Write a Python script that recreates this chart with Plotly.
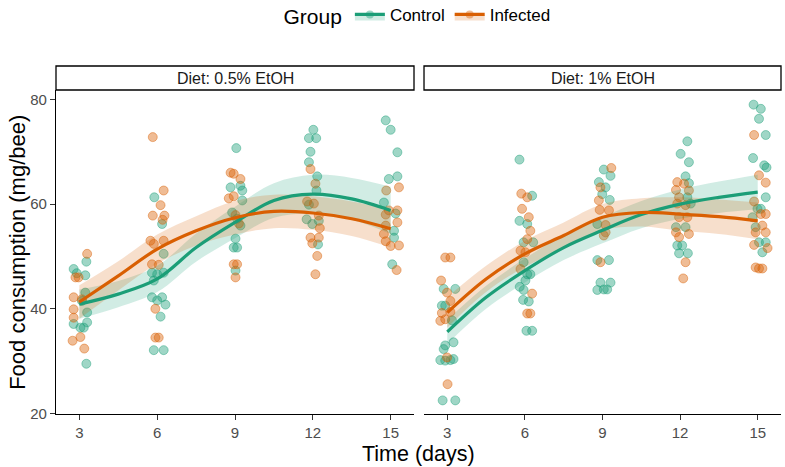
import plotly.graph_objects as go

# ---------------- data ----------------
panels = ["Diet: 0.5% EtOH", "Diet: 1% EtOH"]
groups = ["Control", "Infected"]
colors = {"Control": "#1B9E77", "Infected": "#D95F02"}
fills = {"Control": "rgba(27,158,119,0.2)", "Infected": "rgba(217,95,2,0.2)"}
pt_fill = {"Control": "rgba(27,158,119,0.42)", "Infected": "rgba(217,95,2,0.42)"}
pt_edge = {"Control": "rgba(27,158,119,0.55)", "Infected": "rgba(217,95,2,0.55)"}

# jittered time (days) and food consumption (mg/bee)
l_ctrl_t = [2.78, 3.27, 3.23, 2.90, 3.23, 3.10, 3.30, 2.78, 3.04, 3.17, 3.30, 3.27,
            5.89, 6.19, 6.25, 5.80, 6.00, 6.25, 5.87, 5.80, 6.00, 6.19, 6.32, 6.13, 5.87, 6.25,
            9.05, 8.83, 9.21, 9.28, 9.28, 8.89, 9.08, 9.21, 9.02, 8.95, 9.08, 9.02,
            12.02, 11.85, 12.13, 11.91, 11.85, 12.17, 12.14, 11.85, 11.76, 11.98, 12.23, 12.20,
            14.81, 15.00, 15.26, 14.93, 15.26, 14.74, 15.19, 15.13, 15.13, 15.06]
l_ctrl_y = [47.6, 49.0, 46.4, 46.8, 43.1, 41.5, 39.3, 37.1, 36.4, 36.4, 37.4, 29.5,
            61.3, 56.2, 50.5, 46.9, 46.6, 46.9, 45.4, 42.2, 41.6, 42.2, 40.8, 38.5, 32.1, 32.1,
            70.7, 63.2, 63.5, 62.6, 60.7, 58.4, 57.2, 55.9, 53.4, 51.7, 51.7, 47.3,
            74.2, 72.6, 72.6, 70.0, 68.0, 65.3, 62.6, 59.9, 57.1, 56.2, 56.8, 52.3,
            76.0, 74.2, 69.9, 64.8, 65.3, 60.3, 58.2, 54.9, 53.6, 48.5]

l_inf_t = [3.30, 2.85, 2.97, 2.78, 3.10, 2.78, 2.78, 2.74, 3.04, 3.19,
           5.83, 6.25, 6.13, 5.83, 6.28, 6.21, 5.74, 5.87, 6.25, 5.80, 6.06, 5.93, 5.93, 6.06,
           8.83, 8.95, 9.21, 8.76, 8.95, 9.02, 9.15, 8.95, 9.08, 9.02,
           11.91, 12.10, 11.78, 12.04, 12.23, 12.27, 11.91, 12.23, 11.98, 12.17, 12.10,
           15.32, 14.83, 14.93, 15.26, 14.81, 15.26, 14.81, 14.74, 14.81, 15.00, 15.32, 15.23]
l_inf_y = [50.5, 46.0, 46.0, 42.2, 41.8, 39.9, 38.3, 33.9, 34.6, 32.4,
           72.8, 62.6, 59.8, 57.8, 57.8, 57.0, 53.0, 52.4, 53.0, 48.5, 48.4, 40.0, 34.5, 34.5,
           66.0, 65.8, 64.8, 61.1, 61.5, 57.9, 56.3, 48.5, 48.5, 46.0,
           66.7, 63.9, 60.5, 60.1, 57.8, 55.4, 53.6, 53.6, 52.5, 50.1, 46.6,
           63.2, 62.6, 58.8, 58.8, 58.0, 56.5, 55.9, 54.3, 52.9, 52.0, 52.1, 47.4]

r_ctrl_t = [2.86, 3.31, 2.79, 2.92, 3.18, 3.24, 2.92, 2.86, 2.73, 2.92, 3.12, 3.24, 2.82, 3.31,
            5.79, 6.28, 5.79, 6.09, 5.95, 6.32, 5.95, 6.09, 6.21, 6.02, 5.80, 5.95, 5.93, 6.15, 6.06, 6.28,
            9.05, 9.31, 8.86, 9.12, 8.99, 9.28, 8.80, 8.80, 9.25, 8.92, 9.31, 8.80, 9.05, 9.18,
            12.28, 12.02, 12.34, 12.21, 12.34, 12.28, 12.41, 11.84, 12.21, 11.89, 12.08, 11.96, 12.30,
            14.84, 15.12, 15.05, 15.31, 14.82, 15.25, 15.34, 15.31, 14.99, 15.12, 14.80, 14.92, 15.05, 15.31, 15.18]
r_ctrl_y = [43.8, 43.8, 40.6, 40.6, 37.8, 33.6, 33.0, 32.3, 30.2, 30.1, 30.2, 30.4, 22.5, 22.5,
            68.5, 61.6, 56.8, 56.2, 52.7, 52.7, 48.9, 46.6, 46.6, 45.4, 44.2, 43.6, 41.7, 41.4, 35.8, 35.8,
            66.6, 65.4, 64.2, 63.2, 61.9, 60.8, 56.2, 49.3, 49.3, 45.0, 45.0, 43.6, 43.7, 43.7,
            72.0, 69.6, 68.0, 65.3, 64.0, 61.3, 60.1, 55.6, 55.6, 52.1, 52.1, 50.6, 50.6,
            79.0, 78.2, 76.3, 73.2, 68.8, 67.4, 67.0, 61.3, 59.1, 59.1, 57.5, 55.6, 52.7, 52.7, 50.8]

r_inf_t = [2.92, 3.12, 2.76, 2.99, 3.12, 2.79, 3.12, 2.73, 2.92, 2.99, 3.01,
           5.86, 6.09, 5.89, 6.15, 6.21, 6.09, 5.83, 6.02, 5.83, 6.28, 6.09, 6.21,
           9.34, 8.92, 8.86, 8.89, 9.25, 9.12, 9.05, 9.12, 8.92,
           11.89, 12.15, 11.84, 12.34, 11.96, 11.89, 12.21, 11.96, 12.28, 11.84, 12.34, 11.96, 12.21, 12.12,
           14.86, 15.05, 15.31, 14.86, 15.12, 15.31, 15.18, 14.92, 15.31, 14.86, 15.38, 14.92, 15.05, 15.18]
r_inf_y = [49.8, 49.8, 45.4, 43.1, 41.5, 39.2, 39.4, 37.7, 38.0, 30.7, 25.6,
           62.0, 61.3, 59.1, 57.5, 54.9, 53.3, 51.1, 50.8, 47.6, 42.9, 39.1, 39.1,
           66.9, 63.2, 60.7, 58.9, 58.8, 56.0, 54.0, 54.6, 48.9,
           64.2, 63.9, 62.7, 62.6, 61.3, 60.1, 59.8, 57.5, 57.5, 54.6, 54.3, 53.7, 48.9, 45.8,
           73.2, 65.5, 64.1, 60.5, 58.1, 58.1, 55.9, 54.6, 54.6, 52.2, 51.6, 47.9, 47.7, 47.7]

# smoothed trend and confidence band
smooth_t = [3, 4.5, 6, 7.5, 9, 10.5, 12, 13.5, 15]
l_ctrl_fit = [40.9, 42.8, 45.7, 51.7, 56.5, 60.7, 61.9, 61.0, 58.8]
l_ctrl_lo = [38.1, 40.3, 43.2, 49.0, 53.5, 57.4, 58.2, 57.0, 54.3]
l_ctrl_hi = [43.7, 45.3, 48.2, 54.4, 59.5, 64.0, 65.6, 65.0, 63.3]
l_inf_fit = [41.3, 46.3, 51.4, 54.9, 57.4, 58.6, 58.3, 57.2, 55.3]
l_inf_lo = [38.1, 43.5, 48.6, 52.1, 54.2, 55.4, 55.1, 53.9, 51.7]
l_inf_hi = [44.5, 49.1, 54.2, 57.7, 60.6, 61.8, 61.5, 60.5, 58.9]
r_ctrl_fit = [35.6, 42.2, 47.3, 51.7, 55.0, 58.0, 60.0, 61.3, 62.3]
r_ctrl_lo = [33.3, 40.0, 45.0, 49.3, 52.5, 55.4, 57.2, 58.3, 59.0]
r_ctrl_hi = [37.9, 44.4, 49.6, 54.1, 57.5, 60.6, 62.8, 64.3, 65.6]
r_inf_fit = [39.3, 45.7, 50.5, 54.0, 57.5, 58.4, 58.1, 57.6, 56.8]
r_inf_lo = [36.4, 43.2, 48.0, 51.5, 55.0, 55.7, 54.9, 54.3, 53.3]
r_inf_hi = [42.2, 48.2, 53.0, 56.5, 60.0, 61.1, 61.3, 60.9, 60.3]

x_ticks = [3, 6, 9, 12, 15]
y_ticks = [20, 40, 60, 80]

points = {
    (0, "Control"): (l_ctrl_t, l_ctrl_y), (0, "Infected"): (l_inf_t, l_inf_y),
    (1, "Control"): (r_ctrl_t, r_ctrl_y), (1, "Infected"): (r_inf_t, r_inf_y),
}
smooths = {
    (0, "Control"): (l_ctrl_fit, l_ctrl_lo, l_ctrl_hi), (0, "Infected"): (l_inf_fit, l_inf_lo, l_inf_hi),
    (1, "Control"): (r_ctrl_fit, r_ctrl_lo, r_ctrl_hi), (1, "Infected"): (r_inf_fit, r_inf_lo, r_inf_hi),
}

FONT = "Liberation Sans, Arial, sans-serif"
fig = go.Figure()

# legend entries first
for g in groups:
    fig.add_trace(go.Scatter(
        x=[None], y=[None], mode="lines+markers", name=g,
        line=dict(width=3.2, color=colors[g]),
        marker=dict(size=8, color=pt_fill[g]),
        fill="toself", fillcolor=fills[g], xaxis="x", yaxis="y"))

for p in range(2):
    xa = "x" if p == 0 else "x2"
    ya = "y" if p == 0 else "y2"
    for g in groups:
        tx, vy = points[(p, g)]
        fig.add_trace(go.Scatter(
            x=tx, y=vy, mode="markers", xaxis=xa, yaxis=ya, showlegend=False,
            marker=dict(size=9, color=pt_fill[g], line=dict(width=0.8, color=pt_edge[g])),
            hoverinfo="skip"))
    for g in groups:
        fit, lo, hi = smooths[(p, g)]
        fig.add_trace(go.Scatter(x=smooth_t, y=hi, mode="lines", line=dict(width=0, shape="spline"),
                                 xaxis=xa, yaxis=ya, showlegend=False, hoverinfo="skip"))
        fig.add_trace(go.Scatter(x=smooth_t, y=lo, mode="lines", line=dict(width=0, shape="spline"),
                                 fill="tonexty", fillcolor=fills[g],
                                 xaxis=xa, yaxis=ya, showlegend=False, hoverinfo="skip"))
    for g in groups:
        fit, lo, hi = smooths[(p, g)]
        fig.add_trace(go.Scatter(x=smooth_t, y=fit, mode="lines",
                                 line=dict(width=3.2, color=colors[g], shape="spline"),
                                 xaxis=xa, yaxis=ya, showlegend=False, hoverinfo="skip"))

axis_common = dict(
    showline=True, linecolor="black", linewidth=1.1, ticks="outside", ticklen=5,
    tickcolor="#333333", tickwidth=1.1, showgrid=False, zeroline=False,
    tickfont=dict(family=FONT, size=15, color="#4d4d4d"))

dom_l = [0, 0.4938]
dom_r = [0.5076, 1]
fig.update_layout(
    width=785, height=467,
    margin=dict(l=56, r=4, t=90, b=53, autoexpand=False),
    plot_bgcolor="white", paper_bgcolor="white",
    font=dict(family=FONT, color="black"),
    xaxis=dict(domain=dom_l, range=[2.1, 15.9], tickvals=x_ticks, **axis_common),
    xaxis2=dict(domain=dom_r, range=[2.1, 15.9], tickvals=x_ticks, anchor="y2", **axis_common),
    yaxis=dict(range=[19.9, 81.8], tickvals=y_ticks, **axis_common),
    yaxis2=dict(range=[19.9, 81.8], tickvals=y_ticks, anchor="x2", matches="y",
                showticklabels=False, showline=False, ticks="", showgrid=False, zeroline=False),
    legend=dict(orientation="h", x=0.5, xanchor="center", yref="container", y=0.966,
                yanchor="middle", traceorder="normal",
                title=dict(text="Group", font=dict(size=21, family=FONT)),
                font=dict(size=17, family=FONT), itemwidth=30, bgcolor="rgba(0,0,0,0)"),
    showlegend=True,
)

shapes = []
annotations = []
for p, name in enumerate(panels):
    xr = "x domain" if p == 0 else "x2 domain"
    shapes.append(dict(type="rect", xref=xr, yref="paper", x0=0, x1=1, y0=1.0, y1=1.074,
                       line=dict(color="black", width=1.3), fillcolor="white", layer="above"))
    annotations.append(dict(text=name, xref=xr, yref="paper", x=0.5, y=1.037,
                            xanchor="center", yanchor="middle", showarrow=False,
                            font=dict(size=16, family=FONT, color="#1a1a1a")))
annotations.append(dict(text="Time (days)", xref="paper", yref="paper", x=0.5, y=-0.123,
                        xanchor="center", yanchor="middle", showarrow=False,
                        font=dict(size=21.5, family=FONT, color="black")))
annotations.append(dict(text="Food consumption (mg/bee)", xref="paper", yref="paper",
                        x=-0.054, y=0.5, xanchor="center", yanchor="middle", textangle=-90,
                        showarrow=False, font=dict(size=22, family=FONT, color="black")))
fig.update_layout(shapes=shapes, annotations=annotations)

fig.write_html("out.html")
